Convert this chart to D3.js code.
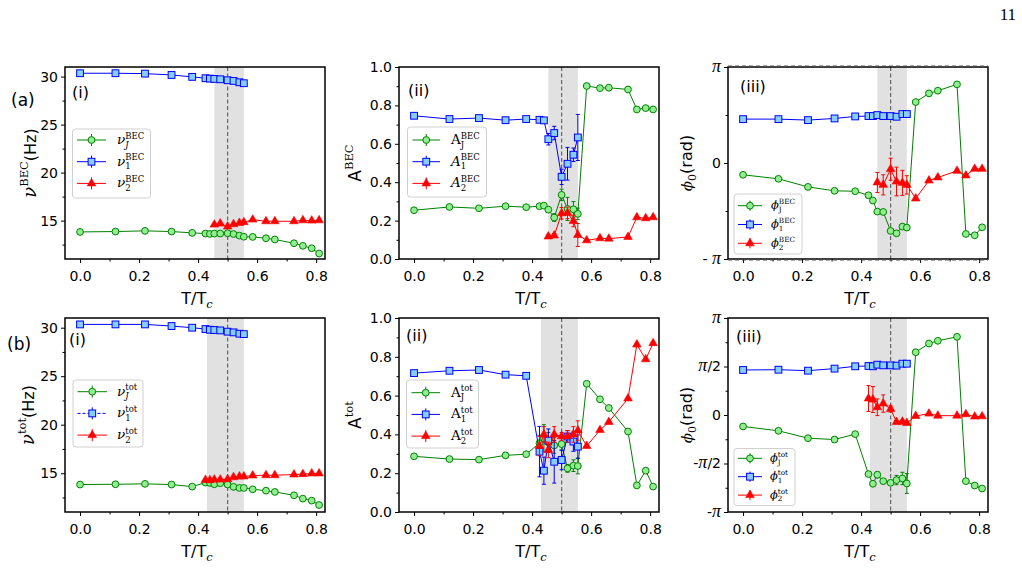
<!DOCTYPE html>
<html><head><meta charset="utf-8">
<script src="https://cdn.jsdelivr.net/npm/d3@7"></script>
<style>body{margin:0;background:#fff} svg{display:block}</style>
</head><body><svg id="c" width="1022" height="568"></svg>
<script>
// ---------------- DATA ----------------
const T_all = [0, 0.12, 0.22, 0.31, 0.38, 0.425, 0.44, 0.455, 0.475, 0.5, 0.52, 0.54, 0.555, 0.585, 0.63, 0.66, 0.725, 0.755, 0.785, 0.81];
const T_one = [0, 0.12, 0.22, 0.31, 0.38, 0.425, 0.44, 0.455, 0.475, 0.5, 0.52, 0.54, 0.555];
const T_two_a = [0.455, 0.475, 0.5, 0.52, 0.54, 0.555, 0.585, 0.63, 0.66, 0.725, 0.755, 0.785, 0.81];
const T_two_b = [0.425, 0.44, 0.455, 0.475, 0.5, 0.52, 0.54, 0.555, 0.585, 0.63, 0.66, 0.725, 0.755, 0.785, 0.81];

// (a) BEC
const nuJ_BEC = [13.82, 13.86, 13.93, 13.86, 13.72, 13.65, 13.61, 13.65, 13.65, 13.68, 13.60, 13.44, 13.32, 13.30, 13.16, 13.03, 12.64, 12.37, 12.12, 11.57];
const nu1_BEC = [30.35, 30.35, 30.31, 30.17, 29.97, 29.83, 29.79, 29.76, 29.72, 29.62, 29.55, 29.41, 29.31];
const nu2_BEC = [14.58, 14.69, 14.38, 14.62, 14.76, 14.83, 15.10, 14.93, 14.93, 14.93, 15.03, 15.00, 15.03];

const AJ_BEC = [0.254, 0.271, 0.264, 0.275, 0.270, 0.275, 0.278, 0.257, 0.216, 0.334, 0.261, 0.259, 0.235, 0.901, 0.890, 0.892, 0.883, 0.779, 0.786, 0.779];
const AJ_BEC_err = [0, 0, 0, 0, 0, 0, 0, 0.01, 0.02, 0.03, 0.06, 0.04, 0.03, 0, 0, 0, 0, 0, 0, 0];
const A1_BEC = [0.746, 0.729, 0.734, 0.723, 0.729, 0.725, 0.722, 0.624, 0.656, 0.428, 0.496, 0.543, 0.633];
const A1_BEC_err = [0, 0, 0, 0, 0, 0, 0, 0.03, 0.035, 0.04, 0.085, 0.035, 0.12];
const A2_BEC = [0.117, 0.122, 0.238, 0.240, 0.198, 0.125, 0.097, 0.108, 0.106, 0.115, 0.217, 0.212, 0.217];
const A2_BEC_err = [0.01, 0.01, 0.03, 0.03, 0.03, 0.06, 0, 0, 0, 0, 0, 0, 0];

const phiJ_BEC = [-0.386, -0.518, -0.782, -0.911, -0.924, -1.056, -1.228, -1.590, -1.602, -2.224, -2.300, -2.083, -2.114, 1.995, 2.278, 2.366, 2.573, -2.322, -2.366, -2.105];
const phiJ_BEC_err = [0, 0, 0, 0, 0, 0, 0, 0.05, 0.05, 0.08, 0.08, 0.08, 0.08, 0, 0, 0, 0, 0, 0, 0];
const phi1_BEC = [1.436, 1.436, 1.404, 1.458, 1.524, 1.536, 1.536, 1.568, 1.536, 1.536, 1.514, 1.602, 1.602];
const phi2_BEC = [-0.638, -0.716, -0.201, -0.606, -0.650, -0.716, -1.162, -0.575, -0.474, -0.258, -0.408, -0.192, -0.192];
const phi2_BEC_err = [0.33, 0.33, 0.36, 0.47, 0.41, 0.3, 0, 0, 0, 0, 0, 0, 0];

// (b) total
const nuJ_tot = [13.83, 13.86, 13.90, 13.83, 13.62, 14.03, 14.00, 13.86, 13.97, 13.83, 13.59, 13.48, 13.48, 13.34, 13.20, 13.07, 12.72, 12.38, 12.17, 11.72];
const nu1_tot = [30.34, 30.34, 30.34, 30.17, 30.00, 29.86, 29.79, 29.76, 29.72, 29.59, 29.52, 29.38, 29.34];
const nu2_tot = [14.31, 14.28, 14.34, 14.34, 14.38, 14.59, 14.66, 14.66, 14.76, 14.79, 14.79, 14.86, 14.90, 14.97, 14.97];

const AJ_tot = [0.287, 0.273, 0.270, 0.292, 0.298, 0.355, 0.380, 0.360, 0.343, 0.350, 0.225, 0.239, 0.237, 0.661, 0.581, 0.536, 0.415, 0.137, 0.213, 0.131];
const AJ_tot_err = [0, 0, 0, 0, 0, 0.04, 0.07, 0.05, 0.04, 0.03, 0.02, 0.03, 0.04, 0, 0, 0, 0, 0, 0, 0];
const A1_tot = [0.716, 0.728, 0.732, 0.708, 0.702, 0.311, 0.213, 0.368, 0.259, 0.268, 0.389, 0.363, 0.337];
const A1_tot_err = [0, 0, 0, 0, 0, 0.13, 0.07, 0.06, 0.11, 0.05, 0.03, 0.05, 0.06];
const A2_tot = [0.340, 0.400, 0.320, 0.400, 0.390, 0.390, 0.400, 0.420, 0.340, 0.422, 0.464, 0.585, 0.863, 0.787, 0.870];
const A2_tot_err = [0.05, 0.04, 0.04, 0.04, 0.02, 0.03, 0.04, 0.05, 0, 0, 0, 0, 0, 0, 0];

const phiJ_tot = [-0.371, -0.512, -0.751, -0.795, -0.619, -1.913, -2.227, -1.935, -2.143, -2.196, -2.108, -2.055, -2.218, 2.033, 2.315, 2.403, 2.532, -2.143, -2.284, -2.381];
const phiJ_tot_err = [0, 0, 0, 0, 0, 0, 0, 0.1, 0, 0, 0.15, 0.2, 0.32, 0, 0, 0, 0, 0, 0, 0];
const phi1_tot = [1.458, 1.467, 1.436, 1.502, 1.577, 1.587, 1.577, 1.630, 1.608, 1.608, 1.599, 1.662, 1.662];
const phi2_tot = [0.534, 0.500, 0.251, 0.371, 0.195, -0.229, -0.217, -0.261, -0.031, 0.044, -0.022, -0.022, 0.022, -0.053, -0.044];
const phi2_tot_err = [0.42, 0.42, 0.27, 0.28, 0.1, 0.05, 0.05, 0.05, 0, 0, 0, 0, 0, 0, 0];

const shadeA = [0.455, 0.555];
const shadeB = [0.43, 0.555];
const xTicks = [0, 0.2, 0.4, 0.6, 0.8];
const xMinor = [0.1, 0.3, 0.5, 0.7];
const nuTicks = [15, 20, 25, 30];
const nuMinor = [12.5, 17.5, 22.5, 27.5];
const ATicks = [0, 0.2, 0.4, 0.6, 0.8, 1.0];
const AMinor = [0.1, 0.3, 0.5, 0.7, 0.9];
const PI = Math.PI;
const phiTicksA = [-PI, 0, PI];
const phiLabelsA = ['- π', '0', 'π'];
const phiMinorA = [-PI/2, PI/2];
const phiTicksB = [-PI, -PI/2, 0, PI/2, PI];
const phiLabelsB = ['-π', '-π/2', '0', 'π/2', 'π'];
const phiMinorB = [-3*PI/4, -PI/4, PI/4, 3*PI/4];

// ---------------- LAYOUT ----------------
const svg = d3.select('#c');
const SANS = 'DejaVu Sans', SERIF = 'DejaVu Serif', PISERIF = 'Liberation Serif';
const TFS = 14;
const cols = [{l:65, r:325}, {l:399, r:659}, {l:728, r:988}];
const rows = [{t:67, b:259}, {t:318, b:512}];
const xDomain = [-0.051, 0.83];
const GREEN = 'green', BLUE = 'blue', RED = 'red';

function rich(g, x, y, items, anchor) {
  const grp = g.append('g');
  let cx = 0, prevStart = 0;
  items.forEach(it => {
    const start = it.stack ? prevStart : cx;
    const el = grp.append('text').attr('x', start).attr('y', it.dy || 0)
      .attr('font-family', it.f).attr('font-size', it.s)
      .attr('font-style', it.it ? 'italic' : 'normal').attr('fill', '#000').text(it.t);
    const w = el.node().getComputedTextLength();
    if (it.stack) cx = Math.max(cx, start + w); else cx = start + w;
    prevStart = start;
  });
  const off = anchor === 'middle' ? -cx / 2 : anchor === 'end' ? -cx : 0;
  grp.attr('transform', `translate(${x + off},${y})`);
  return cx;
}

function marker(g, type, cx, cy) {
  if (type === 'circle')
    g.append('circle').attr('cx', cx).attr('cy', cy).attr('r', 3.4)
      .attr('fill', '#90ee90').attr('stroke', GREEN).attr('stroke-width', 1);
  else if (type === 'square')
    g.append('rect').attr('x', cx - 3.4).attr('y', cy - 3.4).attr('width', 6.8).attr('height', 6.8)
      .attr('fill', '#87cefa').attr('stroke', BLUE).attr('stroke-width', 1);
  else
    g.append('path').attr('d', d3.symbol(d3.symbolTriangle, 32)())
      .attr('transform', `translate(${cx},${cy})`)
      .attr('fill', RED).attr('stroke', RED).attr('stroke-width', 0.6);
}

function legLabel(base, baseIt, sub, subIt, sup, sc) {
  return [
    {t: base, f: SERIF, s: 13.5 * sc, it: baseIt},
    {t: sup, f: SERIF, s: 8.5 * sc, dy: -5.5 * sc},
    {t: sub, f: SERIF, s: 8.5 * sc, it: subIt, dy: 3.5 * sc, stack: true}
  ];
}

function drawPanel(p) {
  const c = cols[p.col], r = rows[p.row];
  const x = d3.scaleLinear().domain(xDomain).range([c.l, c.r]);
  const y = d3.scaleLinear().domain(p.yDomain).range([r.b, r.t]);
  const g = svg.append('g');
  const clipId = 'clip' + p.id;
  svg.append('clipPath').attr('id', clipId).append('rect')
    .attr('x', c.l).attr('y', r.t).attr('width', c.r - c.l).attr('height', r.b - r.t);
  const pg = g.append('g').attr('clip-path', `url(#${clipId})`);
  pg.append('rect').attr('x', x(p.shade[0])).attr('width', x(p.shade[1]) - x(p.shade[0]))
    .attr('y', r.t).attr('height', r.b - r.t).attr('fill', '#e1e1e1');
  pg.append('line').attr('x1', x(0.5)).attr('x2', x(0.5)).attr('y1', r.t).attr('y2', r.b)
    .attr('stroke', '#666').attr('stroke-width', 1.2).attr('stroke-dasharray', '4,2.5');

  p.series.forEach(s => {
    const pts = s.x.map((xv, i) => ({x: xv, y: s.y[i], e: s.err ? s.err[i] : 0}));
    const eg = pg.append('g').attr('stroke', s.c).attr('stroke-width', 1);
    pts.filter(d => d.e > 0).forEach(d => {
      const X = x(d.x), y0 = y(d.y - d.e), y1 = y(d.y + d.e);
      eg.append('line').attr('x1', X).attr('x2', X).attr('y1', y0).attr('y2', y1);
      eg.append('line').attr('x1', X - 2).attr('x2', X + 2).attr('y1', y0).attr('y2', y0);
      eg.append('line').attr('x1', X - 2).attr('x2', X + 2).attr('y1', y1).attr('y2', y1);
    });
    pg.append('path').attr('d', d3.line().x(d => x(d.x)).y(d => y(d.y))(pts))
      .attr('fill', 'none').attr('stroke', s.c).attr('stroke-width', 1);
    const mg = pg.append('g');
    pts.forEach(d => marker(mg, s.m, x(d.x), y(d.y)));
  });

  // x axis
  g.append('g').attr('transform', `translate(0,${r.b})`)
    .call(d3.axisBottom(x).tickValues(xTicks).tickFormat(d3.format('.1f')).tickSizeOuter(0).tickSize(4).tickPadding(8));
  g.append('g').attr('transform', `translate(0,${r.b})`)
    .call(d3.axisBottom(x).tickValues(xMinor).tickFormat('').tickSizeOuter(0).tickSize(2.5));
  // y axis
  const ya = g.append('g').attr('transform', `translate(${c.l},0)`)
    .call(d3.axisLeft(y).tickValues(p.yTicks).tickFormat((d, i) => p.yLabels ? p.yLabels[i] : p.yFmt(d)).tickSizeOuter(0).tickSize(4).tickPadding(3));
  g.append('g').attr('transform', `translate(${c.l},0)`)
    .call(d3.axisLeft(y).tickValues(p.yMinor).tickFormat('').tickSizeOuter(0).tickSize(2.5));
  g.selectAll('.domain').remove();
  g.selectAll('.tick line').attr('stroke', '#000').attr('stroke-width', 1);
  g.selectAll('.tick text').attr('font-family', SANS).attr('font-size', TFS).attr('fill', '#000');
  if (p.yLabels) {
    ya.selectAll('.tick text').each(function () {
      const s = d3.select(this).text();
      const el = d3.select(this).text('');
      s.split(/(π)/).filter(t => t.length).forEach(t => {
        const ts = el.append('tspan').text(t);
        if (t === 'π') ts.attr('font-family', PISERIF).attr('font-style', 'italic').attr('font-size', TFS + 4);
      });
    });
  }
  // spines
  g.append('rect').attr('x', c.l).attr('y', r.t).attr('width', c.r - c.l).attr('height', r.b - r.t)
    .attr('fill', 'none').attr('stroke', '#000').attr('stroke-width', 1.5);
  if (p.piLines) {
    [PI, -PI].forEach(v => {
      g.append('line').attr('x1', c.l).attr('x2', c.r).attr('y1', y(v) + (v > 0 ? -1 : 1)).attr('y2', y(v) + (v > 0 ? -1 : 1))
        .attr('stroke', '#555').attr('stroke-width', 1).attr('stroke-dasharray', '4,3');
    });
  }

  // tag
  g.append('text').attr('x', p.tag[1]).attr('y', p.tag[2]).attr('font-family', SANS).attr('font-size', 16).text(p.tag[0]);

  // x label
  rich(g, (c.l + c.r) / 2 + 2, r.b + 45, [
    {t: 'T/T', f: SANS, s: 16},
    {t: 'c', f: SERIF, s: 11.5, it: true, dy: 3.5}
  ], 'middle');

  // y label
  const yl = g.append('g').attr('transform', `translate(${p.ylab.x},${(r.t + r.b) / 2}) rotate(-90)`);
  rich(yl, 0, 0, p.ylab.items, 'middle');

  // legend
  const L = p.legend;
  const lg = g.append('g');
  lg.append('rect').attr('x', L.x).attr('y', L.y).attr('width', L.w).attr('height', L.h).attr('rx', 3)
    .attr('fill', '#fff').attr('fill-opacity', 0.85).attr('stroke', '#d0d0d0').attr('stroke-width', 1);
  p.series.forEach((s, i) => {
    const yy = L.r0 + i * L.dr;
    const mx = (L.hx0 + L.hx1) / 2;
    const ln = lg.append('line').attr('x1', L.hx0).attr('x2', L.hx1).attr('y1', yy).attr('y2', yy)
      .attr('stroke', s.c).attr('stroke-width', 1);
    if (s.legDash) ln.attr('stroke-dasharray', '3,2');
    lg.append('line').attr('x1', mx).attr('x2', mx).attr('y1', yy - 6 * L.sc).attr('y2', yy + 6 * L.sc)
      .attr('stroke', s.c).attr('stroke-width', 1);
    marker(lg, s.m, mx, yy);
    rich(lg, L.tx, yy + 4 * L.sc, L.labels[i], 'start');
  });
}

function nuLab(sup) {
  return [{t: 'ν', f: SERIF, s: 18, it: true, dy: 0}, {t: sup, f: SERIF, s: 11.5, dy: -8}, {t: '(Hz)', f: SANS, s: 16}];
}
function aLab(sup) {
  return [{t: 'A', f: SANS, s: 17}, {t: sup, f: SERIF, s: 11.5, dy: -8}];
}
const phiLab = [{t: 'ϕ', f: SERIF, s: 15, it: true}, {t: '0', f: SERIF, s: 11, dy: 4}, {t: '(rad)', f: SANS, s: 16}];

const panels = [
  {id: 'ai', row: 0, col: 0, yDomain: [11.0, 31.0], yTicks: nuTicks, yMinor: nuMinor, yFmt: d3.format('d'), shade: shadeA,
   series: [
     {x: T_all, y: nuJ_BEC, c: GREEN, m: 'circle'},
     {x: T_one, y: nu1_BEC, c: BLUE, m: 'square'},
     {x: T_two_a, y: nu2_BEC, c: RED, m: 'tri'}],
   tag: ['(i)', 72, 98], ylab: {x: 36, items: nuLab('BEC')},
   legend: {x: 72.5, y: 129, w: 78, h: 69, r0: 140, dr: 21.7, hx0: 77, hx1: 106, tx: 117, sc: 1,
     labels: [legLabel('ν', true, 'J', true, 'BEC', 1), legLabel('ν', true, '1', false, 'BEC', 1), legLabel('ν', true, '2', false, 'BEC', 1)]}},
  {id: 'aii', row: 0, col: 1, yDomain: [0, 1], yTicks: ATicks, yMinor: AMinor, yFmt: d3.format('.1f'), shade: shadeA,
   series: [
     {x: T_all, y: AJ_BEC, err: AJ_BEC_err, c: GREEN, m: 'circle'},
     {x: T_one, y: A1_BEC, err: A1_BEC_err, c: BLUE, m: 'square'},
     {x: T_two_a, y: A2_BEC, err: A2_BEC_err, c: RED, m: 'tri'}],
   tag: ['(ii)', 408, 96], ylab: {x: 361, items: aLab('BEC')},
   legend: {x: 407.5, y: 127, w: 79, h: 70, r0: 140, dr: 21.7, hx0: 412.5, hx1: 440, tx: 451, sc: 1,
     labels: [legLabel('A', false, 'J', false, 'BEC', 1), legLabel('A', true, '1', false, 'BEC', 1), legLabel('A', true, '2', false, 'BEC', 1)]}},
  {id: 'aiii', row: 0, col: 2, yDomain: [-PI, PI], yTicks: phiTicksA, yLabels: phiLabelsA, yMinor: phiMinorA, shade: shadeA, piLines: true,
   series: [
     {x: T_all, y: phiJ_BEC, err: phiJ_BEC_err, c: GREEN, m: 'circle'},
     {x: T_one, y: phi1_BEC, c: BLUE, m: 'square'},
     {x: T_two_a, y: phi2_BEC, err: phi2_BEC_err, c: RED, m: 'tri'}],
   tag: ['(iii)', 740, 92], ylab: {x: 692, items: phiLab},
   legend: {x: 734, y: 194, w: 68, h: 60, r0: 205.7, dr: 18.8, hx0: 738, hx1: 762, tx: 771, sc: 0.85,
     labels: [legLabel('ϕ', true, 'J', false, 'BEC', 0.85), legLabel('ϕ', true, '1', false, 'BEC', 0.85), legLabel('ϕ', true, '2', false, 'BEC', 0.85)]}},
  {id: 'bi', row: 1, col: 0, yDomain: [11.0, 31.0], yTicks: nuTicks, yMinor: nuMinor, yFmt: d3.format('d'), shade: shadeB,
   series: [
     {x: T_all, y: nuJ_tot, c: GREEN, m: 'circle'},
     {x: T_one, y: nu1_tot, c: BLUE, m: 'square', legDash: true},
     {x: T_two_b, y: nu2_tot, c: RED, m: 'tri'}],
   tag: ['(i)', 69, 345], ylab: {x: 34, items: nuLab('tot')},
   legend: {x: 73, y: 380, w: 70, h: 67, r0: 391.7, dr: 21.7, hx0: 77.5, hx1: 107, tx: 117, sc: 1,
     labels: [legLabel('ν', true, 'J', true, 'tot', 1), legLabel('ν', true, '1', false, 'tot', 1), legLabel('ν', true, '2', false, 'tot', 1)]}},
  {id: 'bii', row: 1, col: 1, yDomain: [0, 1], yTicks: ATicks, yMinor: AMinor, yFmt: d3.format('.1f'), shade: shadeB,
   series: [
     {x: T_all, y: AJ_tot, err: AJ_tot_err, c: GREEN, m: 'circle'},
     {x: T_one, y: A1_tot, err: A1_tot_err, c: BLUE, m: 'square'},
     {x: T_two_b, y: A2_tot, err: A2_tot_err, c: RED, m: 'tri'}],
   tag: ['(ii)', 406, 341], ylab: {x: 361, items: aLab('tot')},
   legend: {x: 406.5, y: 380, w: 72, h: 68, r0: 392.7, dr: 21.7, hx0: 411.5, hx1: 440, tx: 451, sc: 1,
     labels: [legLabel('A', false, 'J', false, 'tot', 1), legLabel('A', false, '1', false, 'tot', 1), legLabel('A', false, '2', false, 'tot', 1)]}},
  {id: 'biii', row: 1, col: 2, yDomain: [-PI, PI], yTicks: phiTicksB, yLabels: phiLabelsB, yMinor: phiMinorB, shade: shadeB,
   series: [
     {x: T_all, y: phiJ_tot, err: phiJ_tot_err, c: GREEN, m: 'circle'},
     {x: T_one, y: phi1_tot, c: BLUE, m: 'square'},
     {x: T_two_b, y: phi2_tot, err: phi2_tot_err, c: RED, m: 'tri'}],
   tag: ['(iii)', 736, 342], ylab: {x: 692, items: phiLab},
   legend: {x: 734, y: 448.5, w: 61, h: 57, r0: 458.3, dr: 18.4, hx0: 738, hx1: 762, tx: 770, sc: 0.85,
     labels: [legLabel('ϕ', true, 'J', false, 'tot', 0.85), legLabel('ϕ', true, '1', false, 'tot', 0.85), legLabel('ϕ', true, '2', false, 'tot', 0.85)]}}
];

panels.forEach(drawPanel);

svg.append('text').attr('x', 11).attr('y', 106).attr('font-family', SANS).attr('font-size', 17).text('(a)');
svg.append('text').attr('x', 7).attr('y', 350).attr('font-family', SANS).attr('font-size', 17).text('(b)');
svg.append('text').attr('x', 1016).attr('y', 20).attr('text-anchor', 'end').attr('font-family', 'Liberation Serif').attr('font-size', 17).text('11');
</script>
</body></html>
